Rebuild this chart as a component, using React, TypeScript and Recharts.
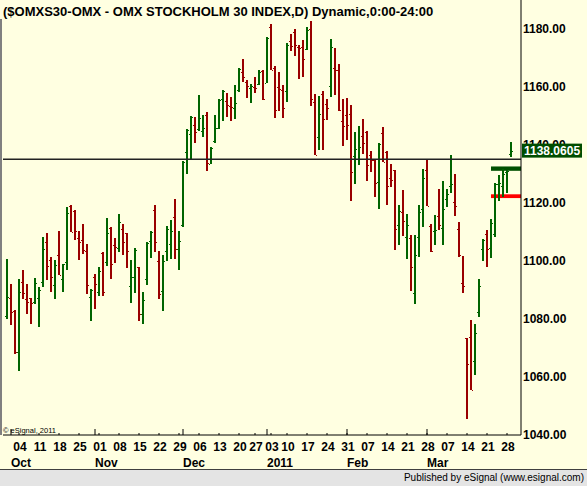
import { ComposedChart, Bar, XAxis, YAxis, ReferenceLine, ReferenceArea } from "recharts";

// trading days, $OMXS30 daily bars
const dates = [
  "2010-09-29", "2010-09-30", "2010-10-01",
  "2010-10-04", "2010-10-05", "2010-10-06", "2010-10-07", "2010-10-08",
  "2010-10-11", "2010-10-12", "2010-10-13", "2010-10-14", "2010-10-15",
  "2010-10-18", "2010-10-19", "2010-10-20", "2010-10-21", "2010-10-22",
  "2010-10-25", "2010-10-26", "2010-10-27", "2010-10-28", "2010-10-29",
  "2010-11-01", "2010-11-02", "2010-11-03", "2010-11-04", "2010-11-05",
  "2010-11-08", "2010-11-09", "2010-11-10", "2010-11-11", "2010-11-12",
  "2010-11-15", "2010-11-16", "2010-11-17", "2010-11-18", "2010-11-19",
  "2010-11-22", "2010-11-23", "2010-11-24", "2010-11-25", "2010-11-26",
  "2010-11-29", "2010-11-30", "2010-12-01", "2010-12-02", "2010-12-03",
  "2010-12-06", "2010-12-07", "2010-12-08", "2010-12-09", "2010-12-10",
  "2010-12-13", "2010-12-14", "2010-12-15", "2010-12-16", "2010-12-17",
  "2010-12-20", "2010-12-21", "2010-12-22", "2010-12-23",
  "2010-12-27", "2010-12-28", "2010-12-29", "2010-12-30",
  "2011-01-03", "2011-01-04", "2011-01-05", "2011-01-07",
  "2011-01-10", "2011-01-11", "2011-01-12", "2011-01-13", "2011-01-14",
  "2011-01-17", "2011-01-18", "2011-01-19", "2011-01-20", "2011-01-21",
  "2011-01-24", "2011-01-25", "2011-01-26", "2011-01-27", "2011-01-28",
  "2011-01-31", "2011-02-01", "2011-02-02", "2011-02-03", "2011-02-04",
  "2011-02-07", "2011-02-08", "2011-02-09", "2011-02-10", "2011-02-11",
  "2011-02-14", "2011-02-15", "2011-02-16", "2011-02-17", "2011-02-18",
  "2011-02-21", "2011-02-22", "2011-02-23", "2011-02-24", "2011-02-25",
  "2011-02-28", "2011-03-01", "2011-03-02", "2011-03-03", "2011-03-04",
  "2011-03-07", "2011-03-08", "2011-03-09", "2011-03-10", "2011-03-11",
  "2011-03-14", "2011-03-15", "2011-03-16", "2011-03-17", "2011-03-18",
  "2011-03-21", "2011-03-22", "2011-03-23", "2011-03-24", "2011-03-25",
  "2011-03-28", "2011-03-29",
];

const opens = [
  1081.0, 1087.3, 1082.8, 1068.5, 1092.9, 1087.0, 1087.3, 1085.8, 1087.3, 1092.8,
  1106.4, 1100.2, 1091.7, 1102.1, 1093.8, 1099.7, 1119.1, 1117.4, 1108.0, 1107.2,
  1103.3, 1087.6, 1094.6, 1089.3, 1102.9, 1099.5, 1111.3, 1105.5, 1104.5, 1111.1,
  1109.6, 1091.5, 1094.5, 1097.8, 1081.7, 1093.8, 1107.0, 1117.6, 1100.1, 1089.8,
  1103.3, 1106.0, 1115.1, 1104.2, 1112.5, 1137.7, 1143.9, 1147.0, 1145.5, 1144.7,
  1150.5, 1133.6, 1141.3, 1146.0, 1155.7, 1155.1, 1153.4, 1152.9, 1159.1, 1165.1,
  1161.6, 1159.7, 1160.1, 1160.9, 1165.5, 1161.4, 1180.7, 1166.4, 1160.0, 1158.9,
  1158.5, 1175.9, 1179.0, 1173.8, 1173.8, 1173.0, 1179.9, 1154.9, 1142.6, 1157.5,
  1154.3, 1160.2, 1166.4, 1165.8, 1148.4, 1150.5, 1150.6, 1136.2, 1135.3, 1143.0,
  1144.6, 1136.6, 1134.8, 1127.3, 1144.1, 1137.6, 1128.5, 1131.3, 1112.5, 1116.9,
  1108.2, 1108.0, 1089.0, 1108.2, 1117.9, 1131.3, 1112.1, 1110.5, 1115.6, 1111.4,
  1121.5, 1125.8, 1120.5, 1111.2, 1092.4, 1073.4, 1073.7, 1065.6, 1082.5, 1104.3,
  1109.4, 1104.4, 1109.4, 1126.4, 1125.7, 1130.7, 1136.8,
];

const highs = [
  1100.7, 1092.1, 1083.0, 1093.8, 1097.0, 1091.9, 1087.4, 1094.3, 1091.0, 1108.4,
  1109.5, 1101.5, 1100.5, 1110.2, 1099.1, 1118.5, 1119.2, 1117.7, 1110.5, 1112.6,
  1105.9, 1090.5, 1095.5, 1098.0, 1103.0, 1115.0, 1111.6, 1107.8, 1116.1, 1112.6,
  1109.7, 1100.2, 1104.6, 1098.1, 1089.4, 1106.7, 1110.5, 1119.2, 1103.6, 1102.2,
  1112.1, 1114.2, 1121.5, 1110.2, 1134.4, 1145.4, 1149.9, 1149.8, 1157.2, 1150.5,
  1151.3, 1139.2, 1150.5, 1155.8, 1159.1, 1157.9, 1156.7, 1160.6, 1166.4, 1169.6,
  1162.4, 1161.2, 1163.4, 1165.8, 1165.8, 1177.2, 1181.7, 1167.1, 1165.1, 1160.6,
  1175.2, 1178.3, 1180.0, 1174.5, 1176.2, 1180.7, 1182.8, 1157.5, 1156.9, 1158.6,
  1155.9, 1176.5, 1173.4, 1168.1, 1156.0, 1156.2, 1153.7, 1144.4, 1146.5, 1148.9,
  1144.7, 1137.8, 1134.9, 1140.6, 1146.1, 1137.8, 1133.3, 1131.3, 1119.2, 1124.6,
  1116.1, 1109.1, 1109.1, 1119.2, 1131.8, 1134.9, 1112.6, 1115.7, 1124.9, 1127.5,
  1124.9, 1136.4, 1130.1, 1113.3, 1101.8, 1073.4, 1079.7, 1078.4, 1093.9, 1107.6,
  1110.8, 1114.6, 1126.9, 1129.5, 1131.8, 1131.5, 1140.9,
];

const lows = [
  1080.0, 1077.9, 1067.9, 1062.0, 1086.9, 1081.4, 1078.3, 1085.5, 1077.1, 1091.3,
  1093.2, 1089.6, 1087.1, 1095.1, 1089.6, 1096.8, 1109.9, 1107.5, 1100.6, 1102.1,
  1088.6, 1079.5, 1083.4, 1088.1, 1087.8, 1098.5, 1093.7, 1099.2, 1102.9, 1101.8,
  1097.5, 1085.5, 1089.2, 1079.4, 1078.3, 1092.0, 1101.3, 1103.0, 1087.1, 1082.9,
  1100.1, 1100.6, 1100.7, 1096.6, 1111.7, 1129.8, 1135.0, 1141.0, 1144.7, 1142.8,
  1131.0, 1133.4, 1141.0, 1145.3, 1148.5, 1149.7, 1148.3, 1149.0, 1158.1, 1161.8,
  1156.3, 1154.5, 1157.8, 1160.6, 1155.5, 1161.2, 1165.7, 1149.0, 1151.8, 1149.3,
  1154.9, 1172.5, 1170.8, 1162.8, 1163.3, 1172.7, 1153.5, 1136.3, 1138.3, 1138.3,
  1148.7, 1156.4, 1157.2, 1151.8, 1139.7, 1141.6, 1120.7, 1126.5, 1133.1, 1136.8,
  1127.6, 1130.5, 1122.0, 1118.0, 1134.0, 1119.3, 1125.5, 1103.8, 1105.3, 1108.9,
  1100.7, 1089.8, 1085.2, 1101.3, 1111.7, 1118.9, 1103.1, 1105.3, 1110.9, 1105.3,
  1118.8, 1123.2, 1115.7, 1101.3, 1089.1, 1045.3, 1055.5, 1060.9, 1080.9, 1099.9,
  1098.1, 1101.3, 1108.2, 1120.5, 1122.1, 1123.4, 1135.9,
];

const closes = [
  1087.6, 1082.4, 1068.5, 1089.2, 1089.0, 1085.7, 1085.5, 1092.4, 1090.1, 1104.2,
  1098.3, 1094.4, 1098.5, 1095.3, 1098.9, 1116.6, 1110.1, 1110.3, 1106.7, 1103.8,
  1091.7, 1090.0, 1091.9, 1096.7, 1089.4, 1109.5, 1098.8, 1105.0, 1113.5, 1106.4,
  1103.3, 1094.5, 1103.8, 1081.7, 1086.7, 1106.3, 1110.0, 1106.6, 1088.6, 1100.1,
  1111.0, 1110.2, 1104.2, 1107.0, 1134.1, 1145.3, 1149.5, 1144.4, 1149.2, 1145.8,
  1133.7, 1139.1, 1146.0, 1155.6, 1158.7, 1153.7, 1153.2, 1154.4, 1166.2, 1163.3,
  1160.5, 1160.5, 1159.8, 1165.3, 1155.7, 1176.9, 1165.8, 1151.9, 1159.4, 1152.6,
  1174.5, 1174.1, 1174.5, 1173.3, 1169.6, 1179.5, 1155.7, 1136.5, 1150.8, 1148.8,
  1152.6, 1173.7, 1165.7, 1152.0, 1146.7, 1146.8, 1130.6, 1138.7, 1139.4, 1140.6,
  1133.0, 1134.9, 1127.0, 1140.3, 1134.1, 1126.0, 1128.1, 1110.9, 1117.4, 1113.9,
  1112.5, 1098.1, 1102.1, 1116.8, 1128.7, 1119.1, 1103.4, 1110.7, 1112.5, 1118.0,
  1123.0, 1126.7, 1119.0, 1101.9, 1091.4, 1064.4, 1055.6, 1075.2, 1091.4, 1107.1,
  1104.3, 1113.2, 1126.7, 1127.0, 1130.1, 1131.0, 1138.0605,
];

const weekTicks = [
  "2010-10-04", "2010-10-11", "2010-10-18", "2010-10-25", "2010-11-01",
  "2010-11-08", "2010-11-15", "2010-11-22", "2010-11-29", "2010-12-06",
  "2010-12-13", "2010-12-20", "2010-12-27", "2011-01-03", "2011-01-10",
  "2011-01-17", "2011-01-24", "2011-01-31", "2011-02-07", "2011-02-14",
  "2011-02-21", "2011-02-28", "2011-03-07", "2011-03-14", "2011-03-21",
  "2011-03-28",
];
const monthStarts = ["2010-10-01", "2010-11-01", "2010-12-01", "2011-01-03", "2011-02-01", "2011-03-01"];
const monthLabels = ["Oct", "Nov", "Dec", "2011", "Feb", "Mar"];
const yTicks = [1040, 1060, 1080, 1100, 1120, 1140, 1160, 1180];

const lastPrice = 1138.0605;
const hLinePrice = 1135.1;
const greenBand = [1131.1, 1132.6];
const redBand = [1121.7, 1123.0];
const bandFrom = "2011-03-23";

const GREEN = "#006400";
const RED = "#990000";
const BG = "#FFFFE1";
const FONT = '"Liberation Sans", Arial, sans-serif';
const PLOT_RIGHT = 521;

const data = dates.map((date, i) => ({
  date,
  open: opens[i],
  high: highs[i],
  low: lows[i],
  close: closes[i],
  range: [lows[i], highs[i]],
}));

const allTicks = dates.filter((d) => weekTicks.includes(d) || monthStarts.includes(d));

function OhlcShape(props: any) {
  const { x, y, width, height, payload } = props;
  const top = Math.min(y, y + height);
  const h = Math.abs(height);
  const cx = Math.round(x + width / 2);
  const k = h / (payload.high - payload.low || 1);
  const oy = Math.round(top + (payload.high - payload.open) * k);
  const cy = Math.round(top + (payload.high - payload.close) * k);
  const color = payload.close >= payload.open ? GREEN : RED;
  return (
    <g shapeRendering="crispEdges" fill={color}>
      <rect x={cx - 1} y={Math.round(top)} width={2} height={Math.max(1, Math.round(h))} />
      <rect x={cx - 2} y={oy} width={1} height={1} />
      <rect x={cx + 1} y={cy} width={1} height={1} />
    </g>
  );
}

function XTick(props: any) {
  const { x, y, payload } = props;
  const d: string = payload.value;
  const m = monthStarts.indexOf(d);
  return (
    <g>
      {weekTicks.includes(d) && (
        <>
          <line x1={x} x2={x} y1={y - 2} y2={y} stroke="#000" />
          <text x={x + 1} y={y + 16} textAnchor="middle" fontFamily={FONT} fontSize={12} fontWeight="bold" fill="#000">
            {d.slice(8)}
          </text>
        </>
      )}
      {m >= 0 && (
        <>
          <line x1={x - 4} x2={x - 4} y1={y - 6} y2={y} stroke="#000" />
          <text x={x - 4} y={y + 32} textAnchor="start" fontFamily={FONT} fontSize={12} fontWeight="bold" fill="#000">
            {monthLabels[m]}
          </text>
        </>
      )}
    </g>
  );
}

// price labels; the last-price tag is the final tick so it is drawn over "1140.00"
function YTick(props: any) {
  const { x, y, payload } = props;
  const v = Number(payload.value);
  if (v === lastPrice) {
    return (
      <g>
        <rect x={x - 1} y={y - 7} width={60} height={14} fill="#004D00" />
        <text x={x + 1} y={y + 4.5} fontFamily={FONT} fontSize={12} fontWeight="bold" fill="#fff">
          {v.toFixed(4)}
        </text>
      </g>
    );
  }
  return (
    <text x={x} y={y} dy={4} textAnchor="start" fontFamily={FONT} fontSize={12} fontWeight="bold" fill="#000">
      {v.toFixed(2)}
    </text>
  );
}

function BandShape(color: string) {
  return (props: any) => {
    const { x, y, height } = props;
    return <rect x={x - 2} y={y} width={PLOT_RIGHT - x + 2} height={height} fill={color} />;
  };
}

export default function App() {
  return (
    <div style={{ position: "absolute", left: 0, top: 0, width: 587, height: 486, background: BG, overflow: "hidden" }}>
      <ComposedChart width={587} height={470} data={data} margin={{ top: 0, right: 0, bottom: 0, left: 3 }}>
        <XAxis
          dataKey="date"
          height={35}
          interval={0}
          ticks={allTicks}
          tick={XTick}
          tickLine={false}
          tickSize={0}
          tickMargin={0}
          axisLine={{ stroke: "#000" }}
          padding={{ left: 2, right: 8 }}
        />
        <YAxis
          orientation="right"
          width={66}
          domain={[1040, 1190]}
          allowDataOverflow
          ticks={[...yTicks, lastPrice]}
          interval={0}
          tick={YTick}
          tickLine={false}
          tickSize={0}
          tickMargin={2}
          axisLine={{ stroke: "#000" }}
        />
        <ReferenceLine y={hLinePrice} stroke="#222" strokeWidth={1.5} />
        <Bar dataKey="range" barSize={2} shape={OhlcShape} isAnimationActive={false} />
        <ReferenceArea x1={bandFrom} x2={dates[dates.length - 1]} y1={greenBand[0]} y2={greenBand[1]} shape={BandShape("#005000")} />
        <ReferenceArea x1={bandFrom} x2={dates[dates.length - 1]} y1={redBand[0]} y2={redBand[1]} shape={BandShape("#FF0000")} />
      </ComposedChart>
      <svg width={587} height={486} style={{ position: "absolute", left: 0, top: 0, pointerEvents: "none" }}>
        <text x={3} y={16} fontFamily={FONT} fontSize={13} fontWeight="bold" fill="#000">
          ($OMXS30-OMX - OMX STOCKHOLM 30 INDEX,D) Dynamic,0:00-24:00
        </text>
        <rect x={0} y={19} width={2} height={416} fill="#808080" />
        <text x={3} y={433} fontFamily={FONT} fontSize={7.5} fill="#000">
          © eSignal, 2011
        </text>
        <rect x={0} y={469} width={587} height={17} fill="#E4E4E4" />
        <line x1={0} x2={587} y1={469.5} y2={469.5} stroke="#404040" />
        <text x={584} y={481} textAnchor="end" fontFamily={FONT} fontSize={10} fill="#000">
          Published by eSignal (www.esignal.com)
        </text>
      </svg>
    </div>
  );
}
